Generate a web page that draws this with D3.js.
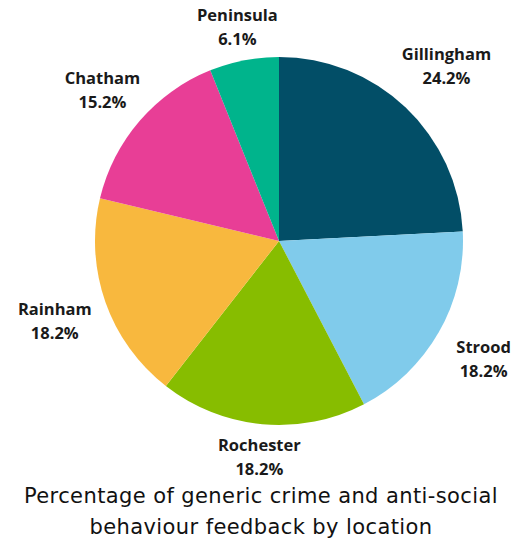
<!DOCTYPE html>
<html>
<head>
<meta charset="utf-8">
<script src="https://cdn.jsdelivr.net/npm/d3@7"></script>
<style>
  html, body { margin: 0; padding: 0; background: #ffffff; }
  svg { display: block; }
</style>
</head>
<body>
<svg id="chart" width="522" height="540"></svg>
<script>
// Share of feedback by location (percent), clockwise from 12 o'clock
const locations = ["Gillingham", "Strood", "Rochester", "Rainham", "Chatham", "Peninsula"];
const shares = [24.2, 18.2, 18.2, 18.2, 15.2, 6.1];
const sliceColors = ["#024e67", "#80cbeb", "#87bd00", "#f8b83e", "#e83e96", "#00b48c"];
const titleLines = ["Percentage of generic crime and anti-social", "behaviour feedback by location"];

const svg = d3.select("#chart");
const cx = 279, cy = 241, radius = 184;

const data = locations.map((name, i) => ({ name, value: shares[i], color: sliceColors[i] }));

const pie = d3.pie().sort(null).value(d => d.value);
const arc = d3.arc().innerRadius(0).outerRadius(radius);
const arcs = pie(data);

const g = svg.append("g").attr("transform", `translate(${cx},${cy})`);

g.selectAll("path.slice")
  .data(arcs)
  .join("path")
  .attr("class", "slice")
  .attr("d", arc)
  .attr("fill", d => d.data.color);

// Labels sit outside the pie, pushed further out toward the sides
const fmt = d3.format(".1f");
const labels = g.selectAll("text.lbl")
  .data(arcs)
  .join("text")
  .attr("class", "lbl")
  .attr("text-anchor", "middle")
  .attr("font-family", "'Open Sans', sans-serif")
  .attr("font-weight", 700)
  .attr("font-size", 16.5)
  .attr("fill", "#1a1a1a")
  .attr("transform", d => {
    const a = (d.startAngle + d.endAngle) / 2;
    const extra = a < Math.PI / 2 ? Math.sin(2 * a) * 12 : 0;
    const r = radius + 30 + Math.abs(Math.sin(a)) * 25 + extra;
    return `translate(${r * Math.sin(a)},${-r * Math.cos(a)})`;
  });
labels.append("tspan").attr("x", 0).attr("y", -5).text(d => d.data.name);
labels.append("tspan").attr("x", 0).attr("y", 19).text(d => fmt(d.data.value) + "%");

svg.append("text")
  .attr("text-anchor", "middle")
  .attr("font-family", "'DejaVu Sans', sans-serif")
  .attr("font-size", 21)
  .attr("letter-spacing", 0.4)
  .attr("fill", "#111")
  .selectAll("tspan")
  .data(titleLines)
  .join("tspan")
  .attr("x", 261)
  .attr("y", (d, i) => 503 + i * 31)
  .text(d => d);
</script>
</body>
</html>
